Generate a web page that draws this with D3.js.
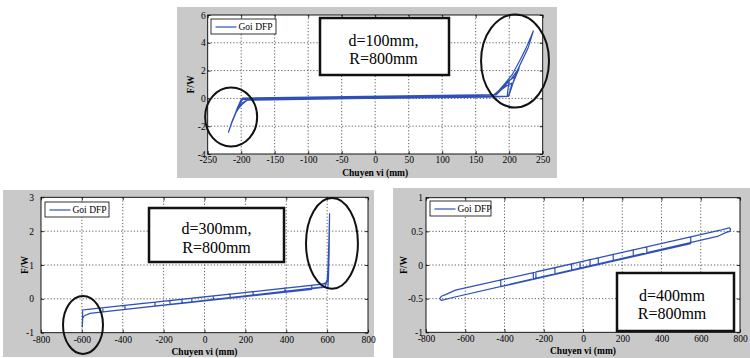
<!DOCTYPE html>
<html><head><meta charset="utf-8">
<script src="https://cdn.jsdelivr.net/npm/d3@7"></script>
<style>
body{margin:0;background:#fff;}
svg{display:block;}
text{font-family:"Liberation Serif","Times New Roman",serif;fill:#000;}
</style>
</head><body>
<svg id="c" width="750" height="358"></svg>
<script>
// ---------- Panel A : d=100mm, R=800mm ----------
const xTicksA = [-250,-200,-150,-100,-50,0,50,100,150,200,250];
const yTicksA = [-4,-2,0,2,4,6];
const pathA = [
  [0,0.12],[120,0.196],[178,0.232],[186,0.55],[196,0.9],[204,1.1],[202,0.7],[200,0.3],[199,0.145],
  [-190,-0.10],[-196,-0.3],[-203,-0.62],[-201,-0.3],[-197,-0.02],
  [179,0.24],[188,0.7],[198,1.2],[209,1.6],[205,1.0],[201,0.4],[199,0.15],
  [-191,-0.11],[-198,-0.4],[-206,-0.85],[-209,-1.1],[-205,-0.6],[-200,-0.08],
  [177,0.23],[185,0.6],[195,1.15],[205,1.75],[216,2.75],[225,3.6],[236,4.85],[228,3.6],[219,2.7],[211,1.9],[204,0.9],[200,0.35],[198,0.13],
  [-191,-0.1],[-200,-0.45],[-209,-1.1],[-214,-1.7],[-219,-2.43],[-214,-1.75],[-208,-1.05],[-203,-0.5],[-200,-0.1],[-194,0.01],
  [176,0.22],[190,0.75],[203,1.4],[215,2.2],[210,1.6],[203,0.8],[199,0.16],
  [-192,-0.13],[-199,-0.35],[-204,-0.7],[-201,-0.25],[-198,0.03],
  [181,0.27],[192,0.8],[200,1.3],[198,0.6],[197,0.1],
  [0,0.0]
];
const ellipsesA = [[-215,-1.34,38.8,2.12],[208.7,2.69,50.7,3.35]];
const boxTextA = ["d=100mm,","R=800mm"];

// ---------- Panel B : d=300mm, R=800mm ----------
const xTicksB = [-800,-600,-400,-200,0,200,400,600,800];
const yTicksB = [-1,0,1,2,3];
const pathB = [
  [0,0.06],[43,0.088],[43,-0.032],[-62,-0.1],[-62,0.02],[125,0.141],[125,0.021],
  [-110,-0.132],[-110,-0.012],[238,0.215],[238,0.095],[-169,-0.17],[-169,-0.05],
  [394,0.316],[394,0.196],[-242,-0.217],[-242,-0.097],[525,0.401],[525,0.281],
  [-389,-0.313],[-389,-0.193],[590,0.44],[600,0.5],[604,0.9],[608,1.6],[612,2.52],
  [610,1.4],[607,0.7],[604,0.35],[-497,-0.383],[-497,-0.263],[575,0.434],[593,0.47],
  [603,0.6],[598,0.5],[590,0.36],[-560,-0.43],[-588,-0.5],[-596,-0.58],[-598,-0.83],
  [-597,-0.6],[-596,-0.33],[-570,-0.31],[-300,-0.135]
];
const ellipsesB = [[-594.5,-0.77,97.8,0.857],[623.7,1.64,127,1.34]];
const boxTextB = ["d=300mm,","R=800mm"];

// ---------- Panel C : d=400mm, R=800mm ----------
const xTicksC = [-800,-600,-400,-200,0,200,400,600,800];
const yTicksC = [-1,-0.5,0,0.5,1];
const pathC = [
  [0,0.055],[36,0.079],[36,-0.021],[-15,-0.055],[-15,0.045],[78,0.106],[78,0.006],
  [-58,-0.083],[-58,0.017],[154,0.157],[154,0.057],[-143,-0.139],[-143,-0.039],
  [256,0.224],[256,0.124],[-253,-0.212],[-253,-0.112],[325,0.27],[325,0.17],
  [-240,-0.203],[-240,-0.103],[549,0.417],[549,0.317],[-419,-0.322],[-419,-0.222],
  [700,0.517],[730,0.54],[745,0.553],[752,0.535],[748,0.5],[730,0.485],[690,0.43],
  [-680,-0.494],[-705,-0.515],[-722,-0.525],[-730,-0.5],[-722,-0.465],[-700,-0.44],
  [-650,-0.374],[0,0.055]
];
const ellipsesC = [];
const boxTextC = ["d=400mm","R=800mm"];

const seriesName = "Goi DFP";
const xTitle = "Chuyen vi (mm)";
const yTitle = "F/W";

const panels = [
  {bg:[177,7,380,171], plot:[207.7,15,542.7,154], xd:[-250,250], yd:[-4,6],
   xt:xTicksA, yt:yTicksA, data:pathA, ell:ellipsesA, xPad:2.5, yPad:2,
   xTitleY:172.7, yTitleX:190.7, leg:[211,19,65,15], box:[320,18,129,57], boxCx:383.5, boxYs:[40,58], boxText:boxTextA},
  {bg:[3,190,371,167], plot:[41,197.3,368,332.7], xd:[-800,800], yd:[-1,3],
   xt:xTicksB, yt:yTicksB, data:pathB, ell:ellipsesB, xPad:4, yPad:7,
   xTitleY:351.7, yTitleX:25, leg:[45,202,64,15], box:[149,208,135,54], boxCx:216.5, boxYs:[228.5,247], boxText:boxTextB},
  {bg:[393,188,357,170], plot:[426,197.7,740,332.3], xd:[-800,800], yd:[-1,1],
   xt:xTicksC, yt:yTicksC, data:pathC, ell:ellipsesC, xPad:2.6, yPad:3,
   xTitleY:351, yTitleX:403.7, leg:[430,201,61,15], box:[617,273,117,58], boxCx:672, boxYs:[295,313], boxText:boxTextC}
];

const svg = d3.select("#c");
const blue = "#2f50b8";

panels.forEach(p => {
  const g = svg.append("g");
  const [L,T,R,B] = p.plot;
  const x = d3.scaleLinear().domain(p.xd).range([L,R]);
  const y = d3.scaleLinear().domain(p.yd).range([B,T]);

  g.append("rect").attr("x",p.bg[0]).attr("y",p.bg[1]).attr("width",p.bg[2]).attr("height",p.bg[3]).attr("fill","#c9c9c9");
  g.append("rect").attr("x",L).attr("y",T).attr("width",R-L).attr("height",B-T).attr("fill","#fff");

  // grid
  g.selectAll(".gx").data(p.xt.slice(1,-1)).enter().append("line")
    .attr("x1",d=>x(d)).attr("x2",d=>x(d)).attr("y1",T).attr("y2",B)
    .attr("stroke","#333").attr("stroke-width",0.8).attr("stroke-dasharray","1.2,2");
  g.selectAll(".gy").data(p.yt.slice(1,-1)).enter().append("line")
    .attr("y1",d=>y(d)).attr("y2",d=>y(d)).attr("x1",L).attr("x2",R)
    .attr("stroke","#333").attr("stroke-width",0.8).attr("stroke-dasharray","1.2,2");

  // data
  const line = d3.line().x(d=>x(d[0])).y(d=>y(d[1]));
  g.append("path").datum(p.data).attr("d",line).attr("fill","none")
    .attr("stroke",blue).attr("stroke-width",1.2).attr("stroke-linejoin","round");

  // axes
  const fmt = d => String(d);
  const ax = g.append("g").attr("transform",`translate(0,${B})`)
    .call(d3.axisBottom(x).tickValues(p.xt).tickSize(-3).tickPadding(p.xPad).tickFormat(fmt));
  const axT = g.append("g").attr("transform",`translate(0,${T})`)
    .call(d3.axisTop(x).tickValues(p.xt).tickSize(-3).tickFormat(""));
  const ay = g.append("g").attr("transform",`translate(${L},0)`)
    .call(d3.axisLeft(y).tickValues(p.yt).tickSize(-3).tickPadding(p.yPad).tickFormat(fmt));
  const ayR = g.append("g").attr("transform",`translate(${R},0)`)
    .call(d3.axisRight(y).tickValues(p.yt).tickSize(-3).tickFormat(""));
  [ax,axT,ay,ayR].forEach(a => {
    a.select(".domain").remove();
    a.selectAll("line").attr("stroke","#000").attr("stroke-width",0.8);
    a.selectAll("text").attr("font-size","9.5px").attr("font-family","Liberation Serif").attr("fill","#000");
  });

  g.append("rect").attr("x",L).attr("y",T).attr("width",R-L).attr("height",B-T)
    .attr("fill","none").attr("stroke","#000").attr("stroke-width",0.9);

  // titles
  g.append("text").attr("x",(L+R)/2).attr("y",p.xTitleY).attr("text-anchor","middle")
    .attr("dominant-baseline","central").attr("font-size","9.5px").attr("font-weight","bold").text(xTitle);
  g.append("text").attr("transform",`translate(${p.yTitleX},${(T+B)/2}) rotate(-90)`)
    .attr("text-anchor","middle").attr("dominant-baseline","central")
    .attr("font-size","9.5px").attr("font-weight","bold").text(yTitle);

  // legend
  const [lx,ly,lw,lh] = p.leg;
  g.append("rect").attr("x",lx).attr("y",ly).attr("width",lw).attr("height",lh)
    .attr("fill","#fff").attr("stroke","#000").attr("stroke-width",0.8);
  g.append("line").attr("x1",lx+4.5).attr("x2",lx+25.5).attr("y1",ly+lh/2+0.5).attr("y2",ly+lh/2+0.5)
    .attr("stroke",blue).attr("stroke-width",1.2);
  g.append("text").attr("x",lx+27.5).attr("y",ly+lh/2+0.5).attr("dominant-baseline","central")
    .attr("font-size","9.5px").text(seriesName);

  // annotation box
  const [bx,by,bw,bh] = p.box;
  g.append("rect").attr("x",bx).attr("y",by).attr("width",bw).attr("height",bh)
    .attr("fill","#fff").attr("stroke","#111").attr("stroke-width",2.5);
  p.boxText.forEach((t,i) => {
    g.append("text").attr("x",p.boxCx).attr("y",p.boxYs[i]).attr("text-anchor","middle")
      .attr("dominant-baseline","central").attr("font-size","16px").text(t);
  });

  // ellipses (data coordinates)
  g.selectAll(".el").data(p.ell).enter().append("ellipse")
    .attr("cx",d=>x(d[0])).attr("cy",d=>y(d[1]))
    .attr("rx",d=>x(p.xd[0]+d[2])-x(p.xd[0])).attr("ry",d=>y(p.yd[0])-y(p.yd[0]+d[3]))
    .attr("fill","none").attr("stroke","#111").attr("stroke-width",2);
});
</script>
</body></html>
